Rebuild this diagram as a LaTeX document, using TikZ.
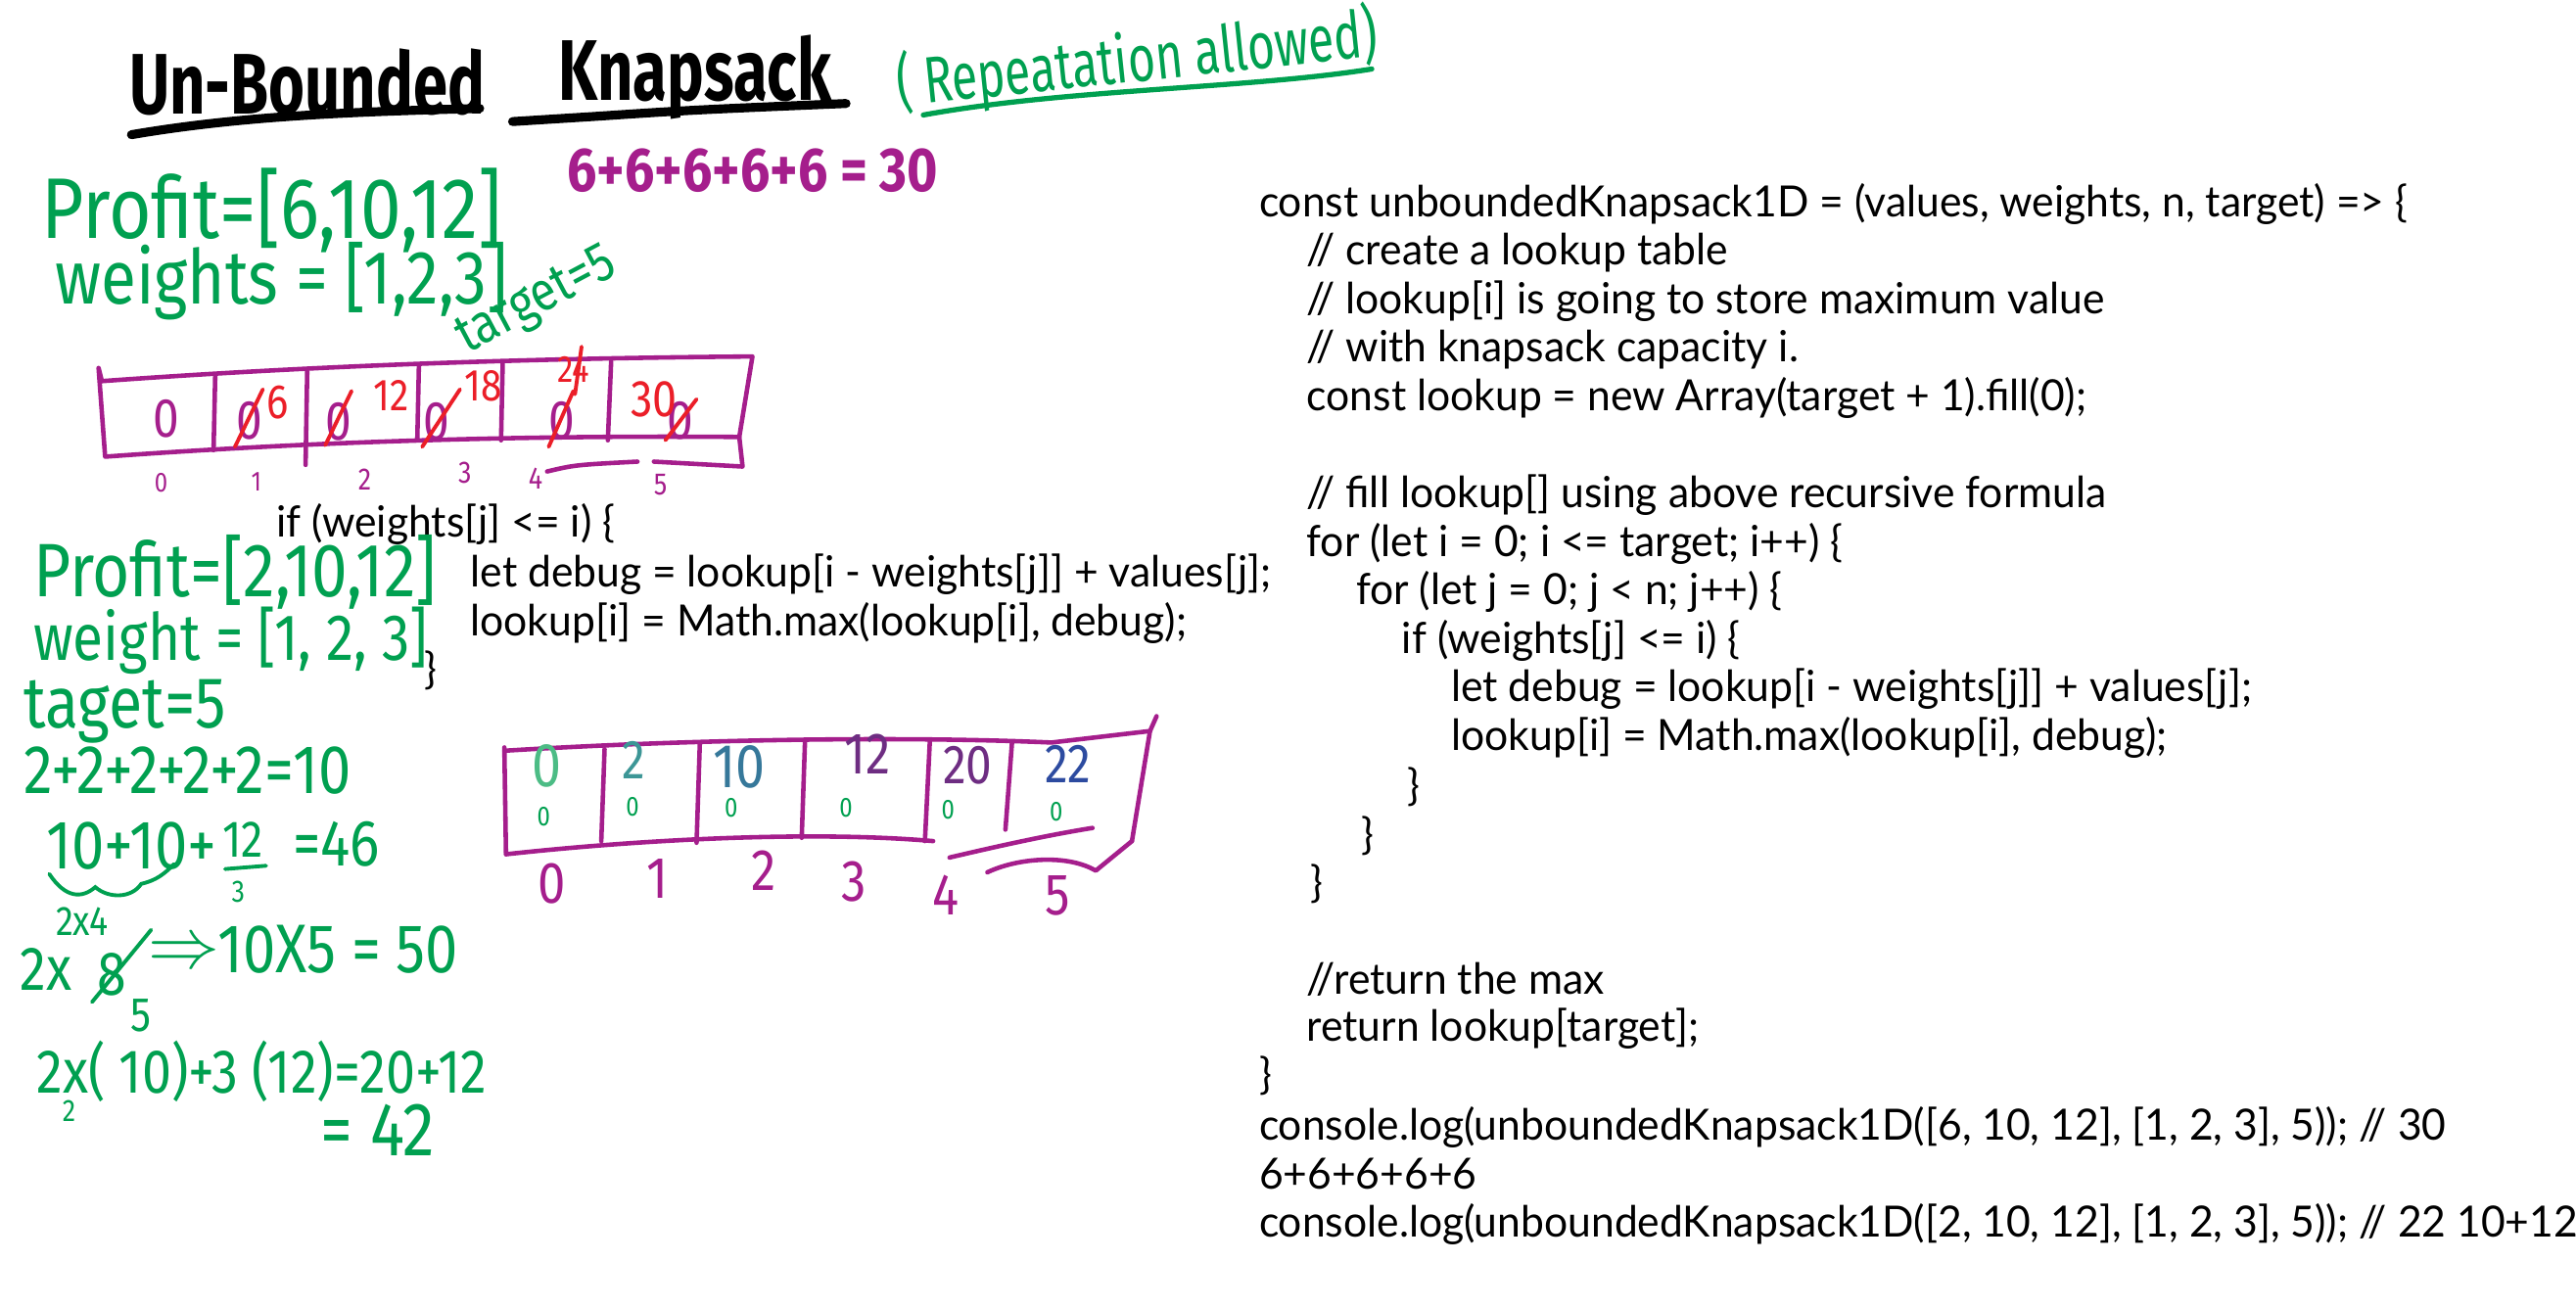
\documentclass[tikz,border=0pt]{standalone}
\usepackage{fontspec}
\newfontfamily\handf[FakeStretch=0.85]{Fira Sans}
\newfontfamily\titlef[FakeStretch=0.72]{Fira Sans}
\newfontfamily\codef[FakeStretch=0.97]{Lato}
\newcommand\hsz[1]{\fontsize{#1}{#1}\selectfont}
\definecolor{hgreen}{RGB}{0,160,80}
\definecolor{hmag}{RGB}{165,30,140}
\definecolor{hred}{RGB}{235,30,40}
\definecolor{hpurp}{RGB}{110,45,130}
\definecolor{hblue}{RGB}{45,75,160}
\definecolor{hteal}{RGB}{60,150,150}
\begin{document}
\begin{tikzpicture}[x=0.16779mm,y=-0.16779mm,
  hand/.style={inner sep=0, font=\handf},
  code/.style={inner sep=0, anchor=base west, font=\codef\fontsize{12.5}{14}\selectfont},
  tbl/.style={draw=hmag, line width=1.3pt, line join=round, line cap=round},
  strike/.style={draw=hred, line width=1.1pt, line cap=round},
  gline/.style={draw=hgreen, line width=1.1pt, line cap=round}]
\fill[white] (0,0) rectangle (1568,796);
\useasboundingbox (0,0) rectangle (1568,796);

% ---------- title ----------
\node[hand, font=\titlef\bfseries] (t1) at (187,50) {\hsz{25}Un-Bounded};
\node[hand, font=\titlef\bfseries] (t2) at (423,47) {\hsz{25}Knapsack};
\node[hand, font=\titlef, text=hgreen, rotate=6] (t3) at (692,37) {\hsz{19}( Repeatation allowed)};
\draw[line width=2.6pt, line cap=round] (80,82) .. controls (150,70) and (220,68) .. (292,66);
\draw[line width=2.6pt, line cap=round] (312,74) -- (360,71) .. controls (420,67) .. (515,63);
\draw[hgreen, line width=1.5pt, line cap=round] (562,70) .. controls (650,54) and (760,54) .. (835,42);

% ---------- first example ----------
\node[hand, text=hgreen, anchor=west] (p1) at (25,128) {\hsz{25}Profit=[6,10,12]};
\node[hand, text=hmag, anchor=west, font=\handf\bfseries] (s1) at (345,104) {\hsz{18}6+6+6+6+6 = 30};
\node[hand, text=hgreen, anchor=west] (w1) at (33,171) {\hsz{22}weights = [1,2,3]};
\node[hand, text=hgreen, rotate=28] (g1) at (327,184) {\hsz{16}target=5};

% table 1
\draw[tbl] (60,224) -- (62,232) .. controls (200,222) and (330,218) .. (458,217) -- (450,266)
  .. controls (330,265) and (200,268) .. (64,278) -- cycle;
\draw[tbl] (131,229) -- (130,274);
\draw[tbl] (187,226) -- (186,283);
\draw[tbl] (255,222) -- (254,268);
\draw[tbl] (306,221) -- (305,268);
\draw[tbl] (372,220) -- (370,268);
\draw[tbl] (450,266) -- (452,284) -- (398,281);
\draw[tbl] (333,287) .. controls (350,283) .. (388,281);

\node[hand, text=hmag] (a0) at (101,255) {\hsz{16}0};
\node[hand, text=hmag] (a1) at (152,256) {\hsz{16}0};
\node[hand, text=hmag] (a2) at (206,257) {\hsz{16}0};
\node[hand, text=hmag] (a3) at (266,257) {\hsz{16}0};
\node[hand, text=hmag] (a4) at (342,256) {\hsz{16}0};
\node[hand, text=hmag] (a5) at (414,256) {\hsz{16}0};
\draw[strike] (143,272) -- (160,237);
\draw[strike] (198,271) -- (214,238);
\draw[strike] (257,272) -- (280,237);
\draw[strike] (334,272) -- (349,238);
\draw[strike] (405,268) -- (424,243);
\node[hand, text=hred] (r1) at (169,245) {\hsz{14}6};
\node[hand, text=hred] (r2) at (238,241) {\hsz{13}12};
\node[hand, text=hred] (r3) at (294,235) {\hsz{13}18};
\node[hand, text=hred] (r4) at (349,225) {\hsz{11}24};
\draw[strike] (354,211) -- (350,240);
\node[hand, text=hred] (r5) at (398,243) {\hsz{15}30};

\node[hand, text=hmag] (i0) at (98,294) {\hsz{8}0};
\node[hand, text=hmag] (i1) at (156,293) {\hsz{8}1};
\node[hand, text=hmag] (i2) at (222,292) {\hsz{9}2};
\node[hand, text=hmag] (i3) at (283,288) {\hsz{9}3};
\node[hand, text=hmag] (i4) at (326,291) {\hsz{9}4};
\node[hand, text=hmag] (i5) at (402,295) {\hsz{9}5};

% ---------- code snippet (left) ----------
\node[code] (k1) at (168,327) {if (weights[j] <= i) \{};
\node[code] (k2) at (286,357) {let debug = lookup[i - weights[j]] + values[j];};
\node[code] (k3) at (286,387) {lookup[i] = Math.max(lookup[i], debug);};
\node[code] (k4) at (258,416) {\}};

% ---------- second example ----------
\node[hand, text=hgreen, anchor=west] (p2) at (20,348) {\hsz{22}Profit=[2,10,12]};
\node[hand, text=hgreen, anchor=west] (w2) at (20,390) {\hsz{19}weight = [1, 2, 3]};
\node[hand, text=hgreen, anchor=west] (g2) at (14,433) {\hsz{21}taget=5};
\node[hand, text=hgreen, anchor=west] (e1) at (14,469) {\hsz{20}2+2+2+2+2=10};
\node[hand, text=hgreen, anchor=west] (e2) at (28,515) {\hsz{20}10+10+};
\node[hand, text=hgreen] (e3) at (148,511) {\hsz{15}12};
\draw[gline] (137,529) -- (162,527);
\node[hand, text=hgreen] (e4) at (145,543) {\hsz{9}3};
\node[hand, text=hgreen, anchor=west] (e5) at (178,514) {\hsz{19}=46};
\draw[gline] (30,532) .. controls (40,547) and (50,547) .. (58,540) .. controls (66,547) and (80,547) .. (86,538)
  .. controls (95,536) and (100,532) .. (106,526);
\node[hand, text=hgreen] (e6) at (50,561) {\hsz{12}2x4};
\node[hand, text=hgreen, anchor=west] (f1) at (12,590) {\hsz{18}2x};
\node[hand, text=hgreen] (f2) at (68,593) {\hsz{18}8};
\draw[gline] (56,610) -- (92,566);
\node[hand, text=hgreen] (f3) at (86,618) {\hsz{14}5};
\node[text=hgreen, inner sep=0] (f4) at (112,581) {\hsz{20}$\Rightarrow$};
\node[hand, text=hgreen, anchor=west] (f5) at (132,578) {\hsz{20}10X5 = 50};
\node[hand, text=hgreen, anchor=west] (h1) at (22,652) {\hsz{18}2x( 10)+3 (12)=20+12};
\node[hand, text=hgreen] (h2) at (42,676) {\hsz{9}2};
\node[hand, text=hgreen, anchor=west] (h3) at (195,688) {\hsz{22}= 42};

% table 2
\draw[tbl] (307,457) .. controls (420,450) and (550,448) .. (640,452) -- (700,445) -- (704,436);
\draw[tbl] (700,445) -- (689,512);
\draw[tbl] (307,455) -- (308,520);
\draw[tbl] (308,520) .. controls (400,510) and (500,506) .. (568,512);
\draw[tbl] (578,522) .. controls (612,514) and (640,508) .. (665,504);
\draw[tbl] (601,531) .. controls (620,522) and (650,520) .. (667,530) -- (689,512);
\draw[tbl] (368,456) -- (366,512);
\draw[tbl] (426,452) -- (424,513);
\draw[tbl] (490,451) -- (488,510);
\draw[tbl] (566,451) -- (563,512);
\draw[tbl] (616,452) -- (612,505);

\node[hand, text=hgreen!70] (b0) at (333,466) {\hsz{18}0};
\node[hand, text=hteal] (b1) at (386,463) {\hsz{16}2};
\node[hand, text=hteal!60!hblue] (b2) at (450,467) {\hsz{18}10};
\node[hand, text=hpurp] (b3) at (528,459) {\hsz{17}12};
\node[hand, text=hpurp] (b4) at (589,466) {\hsz{16}20};
\node[hand, text=hblue] (b5) at (650,465) {\hsz{16}22};
\node[hand, text=hgreen] (z0) at (331,497) {\hsz{8}0};
\node[hand, text=hgreen] (z1) at (385,491) {\hsz{8}0};
\node[hand, text=hgreen] (z2) at (445,492) {\hsz{8}0};
\node[hand, text=hgreen] (z3) at (515,492) {\hsz{8}0};
\node[hand, text=hgreen] (z4) at (577,493) {\hsz{8}0};
\node[hand, text=hgreen] (z5) at (643,494) {\hsz{8}0};
\node[hand, text=hmag] (j0) at (336,538) {\hsz{17}0};
\node[hand, text=hmag] (j1) at (400,535) {\hsz{17}1};
\node[hand, text=hmag] (j2) at (465,530) {\hsz{17}2};
\node[hand, text=hmag] (j3) at (520,537) {\hsz{17}3};
\node[hand, text=hmag] (j4) at (576,545) {\hsz{17}4};
\node[hand, text=hmag] (j5) at (644,545) {\hsz{17}5};

% ---------- main code ----------
\node[code] (c1) at (766,132) {const unboundedKnapsack1D = (values, weights, n, target) => \{};
\node[code] (c2) at (795,161) {// create a lookup table};
\node[code] (c3) at (795,191) {// lookup[i] is going to store maximum value};
\node[code] (c4) at (795,220) {// with knapsack capacity i.};
\node[code] (c5) at (795,250) {const lookup = new Array(target + 1).fill(0);};
\node[code] (c6) at (795,309) {// fill lookup[] using above recursive formula};
\node[code] (c7) at (795,339) {for (let i = 0; i <= target; i++) \{};
\node[code] (c8) at (825,368) {for (let j = 0; j < n; j++) \{};
\node[code] (c9) at (853,398) {if (weights[j] <= i) \{};
\node[code] (c10) at (883,427) {let debug = lookup[i - weights[j]] + values[j];};
\node[code] (c11) at (883,457) {lookup[i] = Math.max(lookup[i], debug);};
\node[code] (c12) at (856,487) {\}};
\node[code] (c13) at (828,517) {\}};
\node[code] (c14) at (797,546) {\}};
\node[code] (c15) at (795,605) {//return the max};
\node[code] (c16) at (795,634) {return lookup[target];};
\node[code] (c17) at (766,663) {\}};
\node[code] (c18) at (766,694) {console.log(unboundedKnapsack1D([6, 10, 12], [1, 2, 3], 5)); // 30};
\node[code] (c19) at (766,724) {6+6+6+6+6};
\node[code] (c20) at (766,753) {console.log(unboundedKnapsack1D([2, 10, 12], [1, 2, 3], 5)); // 22 10+12};
\end{tikzpicture}
\end{document}
